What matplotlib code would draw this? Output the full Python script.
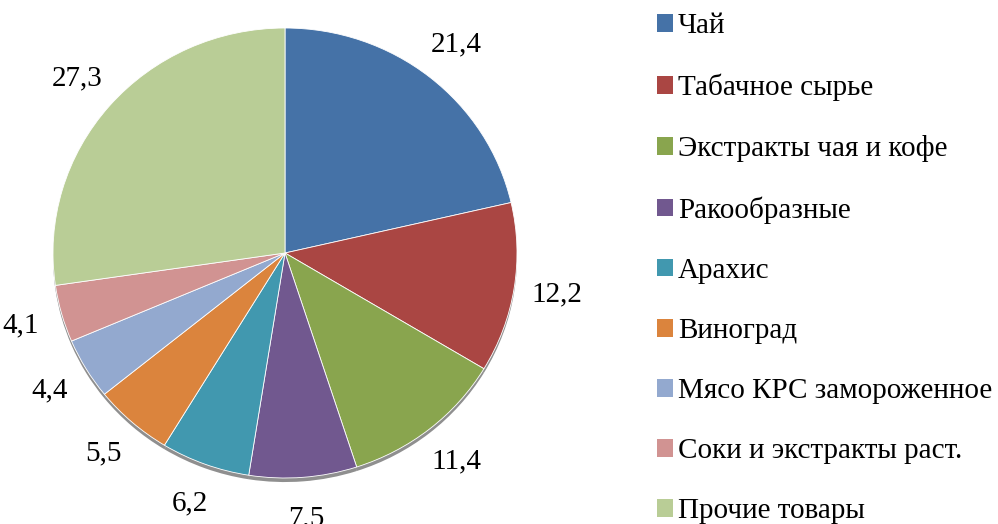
import numpy as np
import matplotlib.pyplot as plt
from matplotlib.patches import Rectangle
from matplotlib.font_manager import FontProperties

FONT = 'Liberation Serif'
plt.rcParams['font.family'] = [FONT, 'DejaVu Serif']

categories = ['Чай', 'Табачное сырье', 'Экстракты чая и кофе', 'Ракообразные',
              'Арахис', 'Виноград', 'Мясо КРС замороженное',
              'Соки и экстракты раст.', 'Прочие товары']
shares = [21.4, 12.2, 11.4, 7.5, 6.2, 5.5, 4.4, 4.1, 27.3]
colors = ['#4572A7', '#AA4643', '#89A54E', '#71588F', '#4198AF',
          '#DB843D', '#93A9CF', '#D19392', '#B9CD96']

W, H = 998, 524
fig = plt.figure(figsize=(W / 100, H / 100), dpi=100)

cx, cy, rx, ry = 285, 253, 232, 225
ax = fig.add_axes([(cx - rx) / W, (H - cy - ry) / H, 2 * rx / W, 2 * ry / H])

# soft shadow underneath
ax.pie(shares, startangle=90, counterclock=False,
       colors=['#333333'] * len(shares), center=(0, -0.018),
       wedgeprops=dict(linewidth=0, alpha=0.55))

wedges, _ = ax.pie(shares, startangle=90, counterclock=False, colors=colors,
                   wedgeprops=dict(linewidth=0.6, edgecolor='white'))

for w, v in zip(wedges, shares):
    ang = np.deg2rad((w.theta1 + w.theta2) / 2)
    d = 1.185
    ax.text(d * np.cos(ang), d * np.sin(ang), f'{v:.1f}'.replace('.', ','),
            ha='center', va='center', fontsize=21, family=FONT, clip_on=False)

ax.set_xlim(-1, 1)
ax.set_ylim(-1, 1)
ax.set_aspect('auto')
ax.axis('off')

handles = [Rectangle((0, 0), 1, 1, facecolor=c, edgecolor='none') for c in colors]
fig.legend(handles, categories, loc='upper left',
           bbox_to_anchor=(637 / W, 1 + 7 / H), frameon=False,
           prop=FontProperties(family=FONT, size=21),
           handlelength=0.55, handleheight=0.55,
           handletextpad=0.15, labelspacing=1.17, borderpad=0.2)

fig.savefig('out.png', dpi=100)
